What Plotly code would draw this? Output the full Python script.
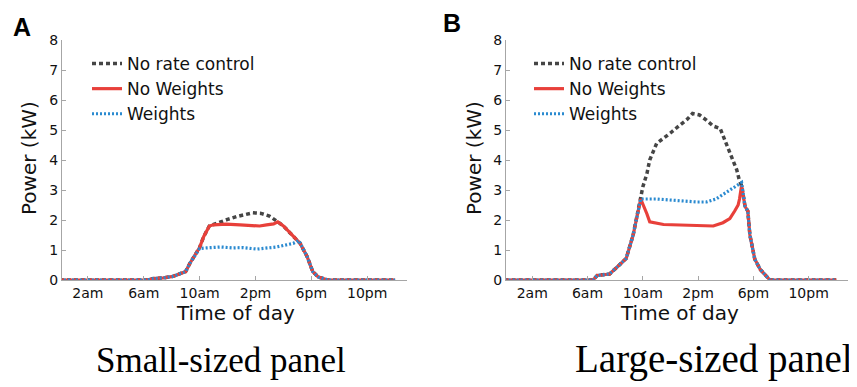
import plotly.graph_objects as go

# ---------------- data (hour of day, power in kW) ----------------
tick_vals = [2, 6, 10, 14, 18, 22]
tick_text = ["2am", "6am", "10am", "2pm", "6pm", "10pm"]
y_ticks = [0, 1, 2, 3, 4, 5, 6, 7, 8]

# Panel A: small-sized panel
a_nrc_h = [0, 6.2, 6.7, 7.4, 8.1, 8.6, 9.0, 9.3, 9.7, 10.0, 10.3, 10.7, 11.0, 11.5, 12.0,
           12.7, 13.3, 13.8, 14.4, 15.0, 15.6, 16.0, 16.5, 17.2, 17.7, 18.1, 18.5, 19.2, 24]
a_nrc_v = [0, 0, 0.05, 0.07, 0.12, 0.2, 0.28, 0.55, 0.85, 1.08, 1.45, 1.8, 1.85, 1.94, 2.02,
           2.12, 2.2, 2.24, 2.22, 2.13, 1.94, 1.8, 1.56, 1.22, 0.78, 0.28, 0.1, 0, 0]

a_nw_h = [0, 6.2, 6.7, 7.4, 8.1, 8.6, 9.0, 9.3, 9.7, 10.0, 10.3, 10.7, 11.0, 11.9, 12.9,
          13.9, 14.3, 14.8, 15.3, 15.6, 16.0, 16.5, 17.2, 17.7, 18.1, 18.5, 19.2, 24]
a_nw_v = [0, 0, 0.05, 0.07, 0.12, 0.2, 0.28, 0.55, 0.85, 1.08, 1.45, 1.8, 1.84, 1.86, 1.84,
          1.8, 1.8, 1.84, 1.87, 1.94, 1.8, 1.56, 1.22, 0.78, 0.28, 0.1, 0, 0]

a_w_h = [0, 6.2, 6.7, 7.4, 8.1, 8.6, 9.0, 9.3, 9.7, 10.0, 10.5, 11.0, 11.5, 12.4, 13.1,
         14.1, 14.6, 15.5, 16.0, 16.7, 17.1, 17.4, 17.7, 18.1, 18.5, 19.2, 24]
a_w_v = [0, 0, 0.05, 0.07, 0.12, 0.2, 0.28, 0.55, 0.85, 1.05, 1.07, 1.08, 1.1, 1.07, 1.08,
         1.03, 1.05, 1.1, 1.15, 1.22, 1.32, 1.05, 0.78, 0.28, 0.1, 0, 0]

# Panel B: large-sized panel
b_nrc_h = [0, 6.4, 6.7, 7.6, 8.3, 8.8, 9.3, 9.7, 9.85, 10.0, 10.3, 10.5, 11.0, 11.5, 12.0,
           12.7, 13.2, 13.6, 14.1, 14.6, 15.1, 15.6, 16.05, 16.4, 16.8, 17.0, 17.15, 17.4,
           17.6, 17.75, 18.1, 18.5, 18.8, 19.2, 24]
b_nrc_v = [0, 0, 0.15, 0.2, 0.5, 0.72, 1.5, 2.4, 2.7, 3.1, 3.55, 4.0, 4.55, 4.72, 4.9,
           5.17, 5.35, 5.55, 5.5, 5.33, 5.13, 5.05, 4.55, 4.1, 3.67, 3.3, 3.15, 2.45,
           2.3, 1.5, 0.7, 0.35, 0.2, 0, 0]

b_nw_h = [0, 6.4, 6.7, 7.6, 8.3, 8.8, 9.3, 9.7, 9.85, 10.3, 10.5, 11.5, 12.7, 13.9, 15.1,
          15.8, 16.3, 16.65, 16.9, 17.0, 17.15, 17.4, 17.6, 17.75, 18.1, 18.5, 18.8, 19.2, 24]
b_nw_v = [0, 0, 0.15, 0.2, 0.5, 0.72, 1.5, 2.4, 2.7, 2.2, 1.94, 1.85, 1.83, 1.8, 1.8,
          1.91, 2.05, 2.3, 2.5, 2.7, 3.15, 2.45, 2.3, 1.5, 0.7, 0.35, 0.2, 0, 0]

b_w_h = [0, 6.4, 6.7, 7.6, 8.3, 8.8, 9.3, 9.7, 9.85, 11.0, 12.4, 13.9, 14.6, 15.3, 15.8,
         16.3, 16.9, 17.15, 17.4, 17.6, 17.75, 18.1, 18.5, 18.8, 19.2, 24]
b_w_v = [0, 0, 0.15, 0.2, 0.5, 0.72, 1.5, 2.4, 2.7, 2.7, 2.65, 2.6, 2.6, 2.7, 2.85,
         3.0, 3.2, 3.25, 2.45, 2.3, 1.5, 0.7, 0.35, 0.2, 0, 0]

series_names = ["No rate control", "No Weights", "Weights"]
panel_letters = ["A", "B"]
panel_captions = ["Small-sized panel", "Large-sized panel"]
x_title = "Time of day"
y_title = "Power (kW)"

# ---------------- styling ----------------
# the page body has an 8px margin, so the figure starts at (8, 8) in the window
OFF = 8
W, H = 857 - OFF, 387 - OFF
C_BLACK, C_RED, C_BLUE = "#454545", "#e8403a", "#2a8ad0"
AXIS_C = "#a6a6a6"
SANS = "DejaVu Sans"

styles = [dict(color=C_BLACK, width=3.5, dash="4px,3px"),
          dict(color=C_RED, width=3.2, dash="solid"),
          dict(color=C_BLUE, width=3.2, dash="2px,2px")]

fig = go.Figure()
panels = [(a_nrc_h, a_nrc_v, a_nw_h, a_nw_v, a_w_h, a_w_v),
          (b_nrc_h, b_nrc_v, b_nw_h, b_nw_v, b_w_h, b_w_v)]
for i, p in enumerate(panels):
    xa = "x" if i == 0 else "x2"
    ya = "y" if i == 0 else "y2"
    lg = "legend" if i == 0 else "legend2"
    for k in range(3):
        fig.add_trace(go.Scatter(x=p[2 * k], y=p[2 * k + 1], mode="lines",
                                 name=series_names[k], line=styles[k],
                                 xaxis=xa, yaxis=ya, legend=lg,
                                 legendgroup=f"{i}{k}"))

def px_x(v):  # window pixel -> paper fraction
    return (v - OFF) / W

def px_y(v):
    return 1 - (v - OFF) / H

xdoms = [[px_x(62), px_x(407)], [px_x(506), px_x(848)]]
ydom = [px_y(280), px_y(40)]

axis_common = dict(showline=True, linecolor=AXIS_C, linewidth=1.2, showgrid=False,
                   zeroline=False, ticks="inside", ticklen=4, tickcolor=AXIS_C,
                   automargin=False,
                   tickfont=dict(family=SANS, size=14, color="#111"))

title_font = dict(family=SANS, size=20, color="#111")
legend_font = dict(family=SANS, size=17, color="#111")

layout = dict(
    width=W, height=H, margin=dict(l=0, r=0, t=0, b=0),
    paper_bgcolor="white", plot_bgcolor="white",
    xaxis=dict(domain=xdoms[0], range=[0.15, 24.85], anchor="y",
               tickvals=tick_vals, ticktext=tick_text, **axis_common),
    yaxis=dict(domain=ydom, range=[0, 8], anchor="x", tickvals=y_ticks, **axis_common),
    xaxis2=dict(domain=xdoms[1], range=[0.1, 24.85], anchor="y2",
                tickvals=tick_vals, ticktext=tick_text, **axis_common),
    yaxis2=dict(domain=ydom, range=[0, 8], anchor="x2", tickvals=y_ticks, **axis_common),
    legend=dict(x=px_x(87), y=px_y(46), xanchor="left", yanchor="top",
                bgcolor="rgba(0,0,0,0)", font=legend_font,
                itemwidth=30, tracegroupgap=0),
    legend2=dict(x=px_x(529), y=px_y(46), xanchor="left", yanchor="top",
                 bgcolor="rgba(0,0,0,0)", font=legend_font,
                 itemwidth=30, tracegroupgap=0),
    showlegend=True,
)
fig.update_layout(**layout)

letter_pos = [(22, 27), (452, 23)]
caption_pos = [(221, 360), (714, 359)]
caption_size = [35, 39]
xtitle_pos = [(235, 313), (679, 313)]
ytitle_pos = [(29, 158), (474, 158)]
for i in range(2):
    fig.add_annotation(text=f"<b>{panel_letters[i]}</b>", xref="paper", yref="paper",
                       x=px_x(letter_pos[i][0]), y=px_y(letter_pos[i][1]),
                       showarrow=False, xanchor="center", yanchor="middle",
                       font=dict(family="Liberation Sans", size=25, color="#000"))
    fig.add_annotation(text=panel_captions[i], xref="paper", yref="paper",
                       x=px_x(caption_pos[i][0]), y=px_y(caption_pos[i][1]),
                       showarrow=False, xanchor="center", yanchor="middle",
                       font=dict(family="Liberation Serif", size=caption_size[i], color="#000"))
    fig.add_annotation(text=x_title, xref="paper", yref="paper",
                       x=px_x(xtitle_pos[i][0]), y=px_y(xtitle_pos[i][1]),
                       showarrow=False, xanchor="center", yanchor="middle",
                       font=title_font)
    fig.add_annotation(text=y_title, xref="paper", yref="paper", textangle=-90,
                       x=px_x(ytitle_pos[i][0]), y=px_y(ytitle_pos[i][1]),
                       showarrow=False, xanchor="center", yanchor="middle",
                       font=title_font)

fig.write_html("out.html")
